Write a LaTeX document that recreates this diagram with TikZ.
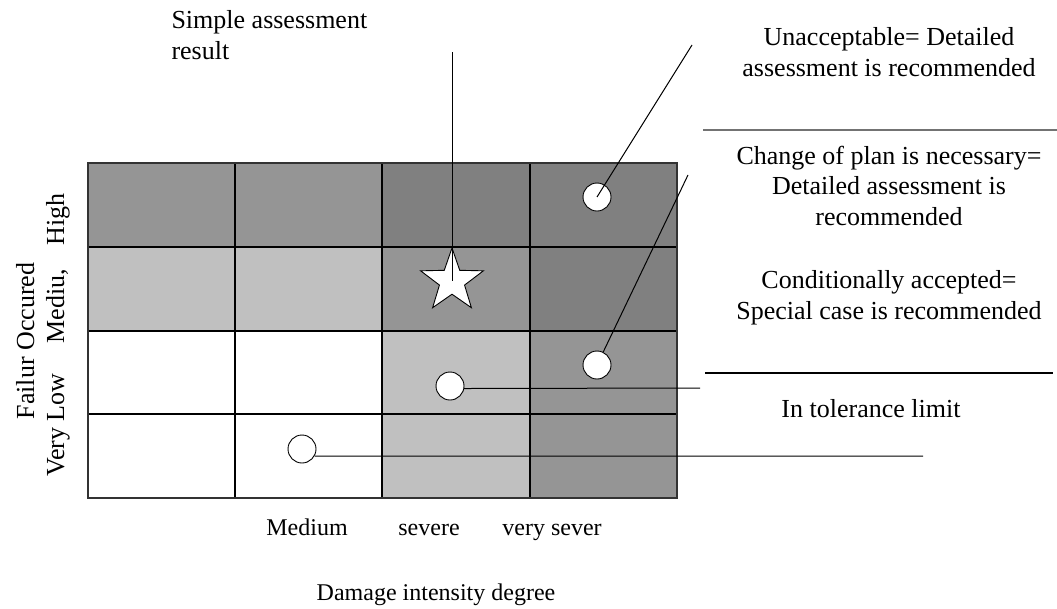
\documentclass[tikz,border=0pt]{standalone}
\usepackage{fontspec}
\setmainfont{Liberation Serif}
\usetikzlibrary{shapes.geometric}

\definecolor{cellDark}{gray}{0.50}
\definecolor{cellMid}{gray}{0.585}
\definecolor{cellLight}{gray}{0.753}

\begin{document}
\begin{tikzpicture}[
  x=1pt, y=-1pt,
  gridline/.style={draw=black, line width=1.2pt},
  dot/.style={circle, draw, fill=white, line width=0.9pt, minimum size=28pt, inner sep=0pt},
  starmark/.style={star, star points=5, star point ratio=2.5, draw, fill=white, line width=0.9pt, minimum size=66pt, inner sep=0pt},
  lbl/.style={font=\fontsize{26}{30.5}\selectfont, align=center},
  axis/.style={font=\fontsize{24}{28}\selectfont},
  line/.style={line width=1pt}
]
\useasboundingbox (0,0) rectangle (1057,608);

% matrix cells
\fill[cellMid] (88,163) rectangle (382,247);
\fill[cellDark] (382,163) rectangle (677,247);
\fill[cellLight] (88,247) rectangle (382,331);
\fill[cellMid] (382,247) rectangle (530,331);
\fill[cellDark] (530,247) rectangle (677,331);
\fill[cellLight] (382,331) rectangle (530,498);
\fill[cellMid] (530,331) rectangle (677,498);

\draw[gridline] (88,247) -- (677,247);
\draw[gridline] (88,331) -- (677,331);
\draw[gridline] (88,414) -- (677,414);
\draw[gridline] (235,163) -- (235,498);
\draw[gridline] (382,163) -- (382,247);
\draw[gridline] (530,163) -- (530,498);
\draw[line width=2.4pt] (382,247) -- (382,498);
\draw[line width=1.6pt, draw=black!80] (88,163) rectangle (677,498);

% markers
\node[starmark] (star) at (452,281) {};
\node[dot] (c1) at (597,197) {};
\node[dot] (c2) at (597,365) {};
\node[dot] (c3) at (450,386) {};
\node[dot] (c4) at (302,449) {};

% texts (base = last line)
\node[lbl, align=left, anchor=base west] (simple) at (168,59) {Simple assessment\\result};
\node[lbl, anchor=base] (unacc) at (889,76) {Unacceptable= Detailed\\assessment is recommended};
\node[lbl, anchor=base] (change) at (889,225) {Change of plan is necessary=\\Detailed assessment is\\recommended};
\node[lbl, anchor=base] (cond) at (889,319) {Conditionally accepted=\\Special case is recommended};
\node[lbl, anchor=base] (toler) at (871,417) {In tolerance limit};

\node[lbl, rotate=90, anchor=base] (failur) at (34,341) {Failur Occured};
\node[lbl, rotate=90, anchor=base] (level) at (64,335) {Very Low\hspace{30pt}Mediu,\hspace{24pt}High};

\node[axis, anchor=base] (medium) at (307,535) {Medium};
\node[axis, anchor=base] (severe) at (429,535) {severe};
\node[axis, anchor=base] (vsever) at (552,535) {very sever};
\node[axis, anchor=base] (damage) at (436,600) {Damage intensity degree};

% dividers
\draw[line width=2.4pt, draw=black!55] (703,130) -- (1057,130);
\draw[line width=1.5pt] (705,373) -- (1053,373);

% connectors
\coordinate (simpleEnd) at (452,52);
\coordinate (e1) at (692,45);
\coordinate (e2) at (688,175);
\coordinate (e3) at (700,388);
\coordinate (e4) at (923,456);

\draw[line] (simpleEnd) -- (star.center);
\draw[line] (c1.center) -- (e1);
\draw[line] (c2) -- (e2);
\draw[line] (c3.-10) -- (e3);
\draw[line] (c4.-30) -- (e4);
\end{tikzpicture}
\end{document}
